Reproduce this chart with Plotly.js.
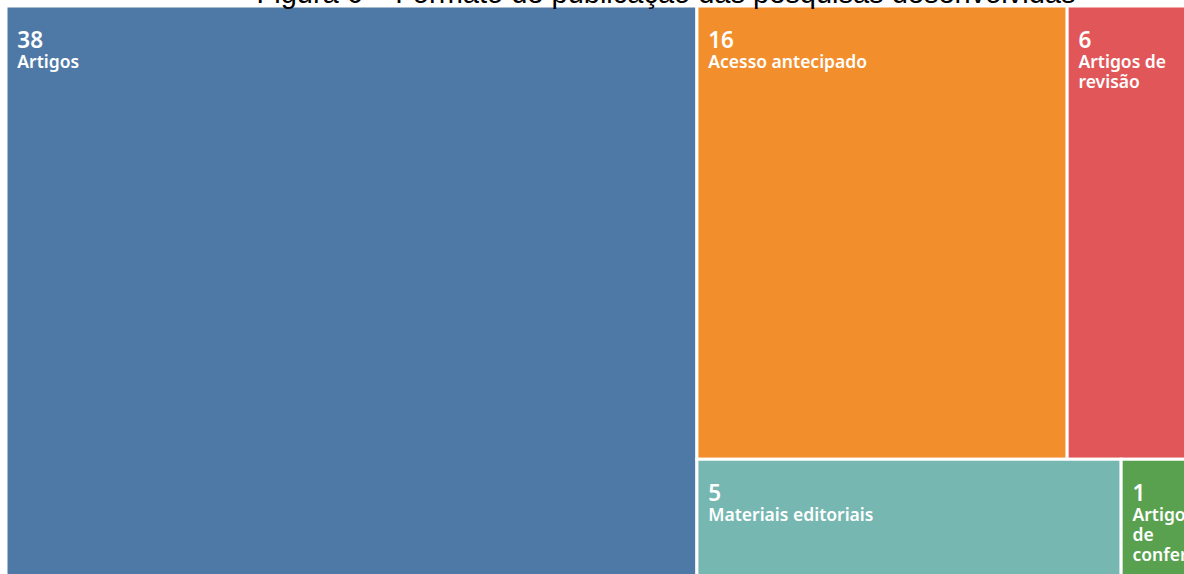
<!DOCTYPE html>
<html>
<head>
<meta charset="utf-8">
<script src="https://cdn.plot.ly/plotly-3.0.1.min.js"></script>
<style>
  html, body { margin: 0; padding: 0; overflow: hidden; width: 1184px; height: 574px; background: #fff; }
  #chart { position: absolute; left: 0; top: -40px; width: 1332px; height: 623px; }
</style>
</head>
<body>
<div id="chart"></div>
<script>
const labels = ["Artigos", "Acesso antecipado", "Artigos de revisão", "Materiais editoriais", "Artigos de conferência"];
const displayLabels = ["Artigos", "Acesso antecipado", "Artigos de<br>revisão", "Materiais editoriais", "Artigos<br>de<br>conferência"];
const values = [38, 16, 6, 5, 1];
const colors = ["#4e79a7", "#f28e2b", "#e15759", "#76b7b2", "#59a14f"];
const titleText = "Figura 6 – Formato de publicação das pesquisas desenvolvidas";

// inner padding helpers (text layout only)
const NB = "\u00A0";
const padLeft = "<span style='font-size:16px'>" + NB + NB + "</span>";
const padTop = "<span style='font-size:18px'>" + NB + "</span>";
const cellText = displayLabels.map(s =>
  s.split("<br>").map(line => padLeft + "<span style='font-size:17.5px;font-weight:600'>" + line + "</span>").join("<br>")
);

const trace = {
  type: "treemap",
  labels: labels,
  parents: labels.map(() => ""),
  values: values,
  text: cellText,
  branchvalues: "total",
  sort: true,
  texttemplate: padTop + "<br>" + padLeft + "<span style='font-size:22.5px;font-weight:600'>%{value}</span><br>%{text}",
  textposition: "top left",
  textfont: { family: "Noto Sans", size: 15.3, color: "#ffffff" },
  hoverinfo: "label+value",
  marker: {
    colors: colors,
    line: { width: 3, color: "#ffffff" },
    pad: { t: 0, l: 0, r: 0, b: 0 }
  },
  tiling: { packing: "squarify", squarifyratio: 1.618, pad: 0 },
  pathbar: { visible: false }
};

const layout = {
  width: 1332,
  height: 623,
  margin: { l: 6, r: 126, t: 46, b: 0 },
  paper_bgcolor: "#ffffff",
  uniformtext: { mode: "show", minsize: 15.3 },
  title: {
    text: titleText,
    font: { family: "Liberation Sans, Arial, sans-serif", size: 29, color: "#000000" },
    x: 0.5, xref: "container", xanchor: "center",
    y: 1 - 43 / 623, yref: "container", yanchor: "bottom"
  },
  showlegend: false
};

Plotly.newPlot("chart", [trace], layout, { displayModeBar: false, staticPlot: true });
</script>
</body>
</html>
